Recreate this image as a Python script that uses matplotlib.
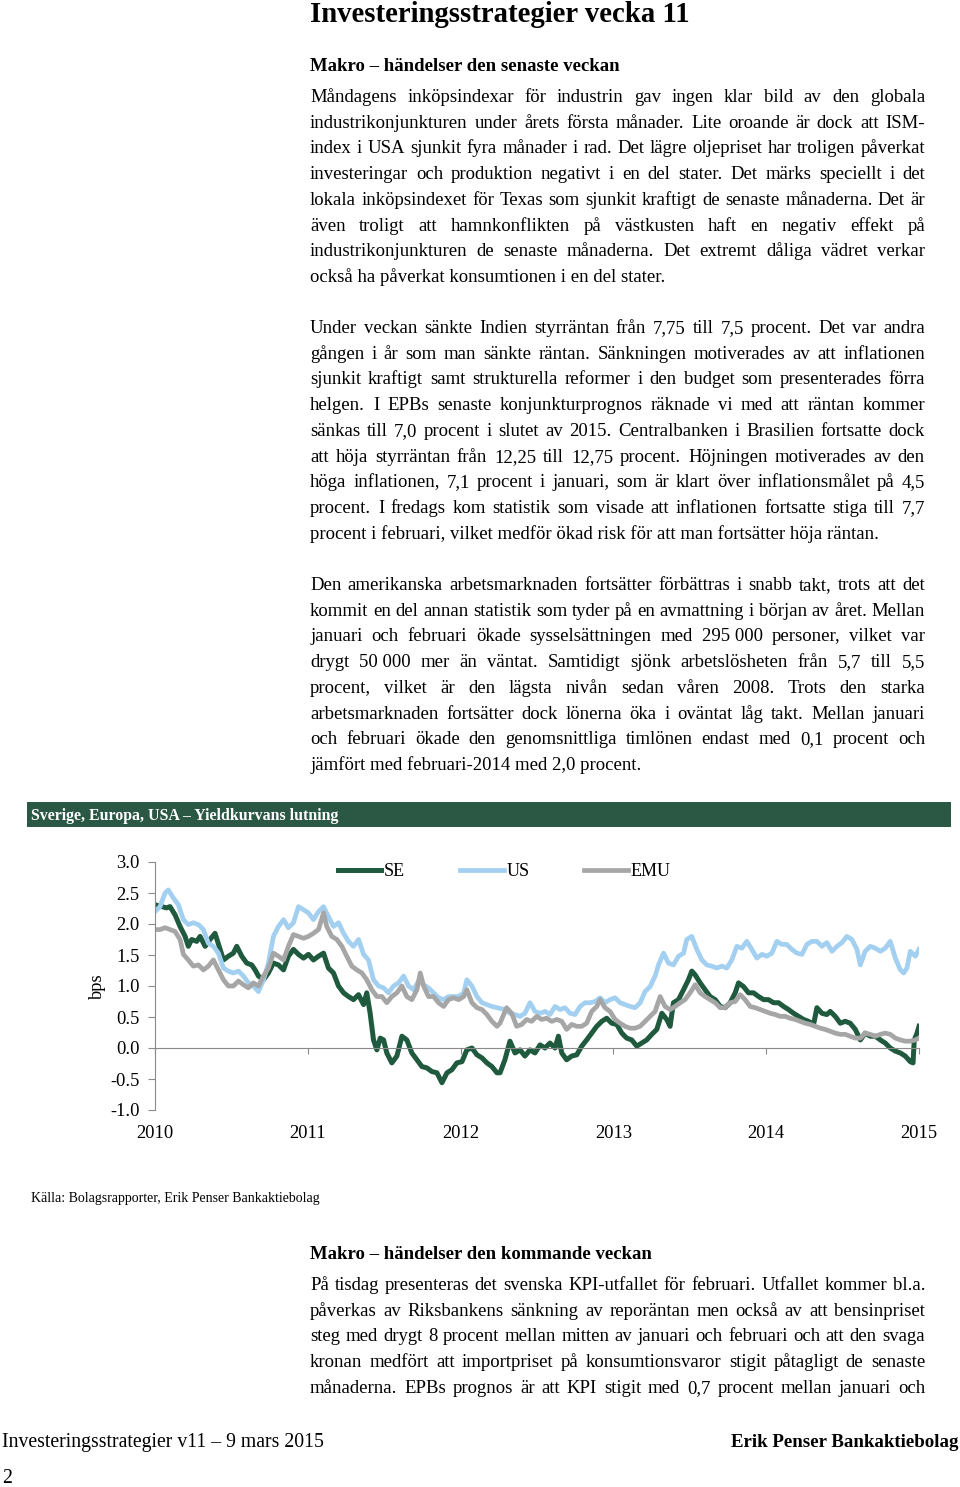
import matplotlib
matplotlib.use("Agg")
import matplotlib.pyplot as plt
from matplotlib.patches import Rectangle

plt.rcParams['font.family'] = ['Liberation Serif', 'DejaVu Serif']
plt.rcParams['axes.unicode_minus'] = False

# --- data (years as decimal, bps) ---
se_year = [2010.000, 2010.076, 2010.098, 2010.131, 2010.164, 2010.197, 2010.218, 2010.240, 2010.273, 2010.295,
           2010.328, 2010.360, 2010.393, 2010.426, 2010.448, 2010.480, 2010.513, 2010.535, 2010.568, 2010.600,
           2010.633, 2010.655, 2010.677, 2010.710, 2010.742, 2010.775, 2010.808, 2010.841, 2010.873, 2010.906,
           2010.939, 2010.972, 2011.004, 2011.037, 2011.070, 2011.103, 2011.135, 2011.168, 2011.201, 2011.234,
           2011.266, 2011.299, 2011.332, 2011.365, 2011.386, 2011.408, 2011.430, 2011.452, 2011.474, 2011.496,
           2011.517, 2011.550, 2011.583, 2011.616, 2011.648, 2011.681, 2011.714, 2011.747, 2011.779, 2011.812,
           2011.845, 2011.878, 2011.911, 2011.943, 2011.976, 2012.009, 2012.041, 2012.074, 2012.107, 2012.140,
           2012.172, 2012.205, 2012.238, 2012.258, 2012.290, 2012.323, 2012.356, 2012.389, 2012.421, 2012.454,
           2012.487, 2012.520, 2012.552, 2012.585, 2012.618, 2012.640, 2012.662, 2012.694, 2012.727, 2012.760,
           2012.793, 2012.825, 2012.858, 2012.891, 2012.924, 2012.956, 2012.989, 2013.022, 2013.055, 2013.087,
           2013.120, 2013.153, 2013.186, 2013.218, 2013.251, 2013.284, 2013.317, 2013.349, 2013.371, 2013.393,
           2013.426, 2013.459, 2013.491, 2013.513, 2013.535, 2013.568, 2013.600, 2013.633, 2013.666, 2013.699,
           2013.731, 2013.764, 2013.797, 2013.819, 2013.852, 2013.884, 2013.917, 2013.950, 2013.983, 2014.015,
           2014.048, 2014.081, 2014.114, 2014.146, 2014.179, 2014.212, 2014.245, 2014.277, 2014.310, 2014.332,
           2014.365, 2014.397, 2014.419, 2014.452, 2014.485, 2014.517, 2014.550, 2014.583, 2014.616, 2014.648,
           2014.681, 2014.714, 2014.747, 2014.779, 2014.812, 2014.845, 2014.878, 2014.910, 2014.943, 2014.961,
           2014.969, 2014.987, 2015.000]
se_val = [2.31, 2.26, 2.28, 2.15, 1.96, 1.80, 1.64, 1.75, 1.72, 1.80,
          1.64, 1.75, 1.85, 1.59, 1.42, 1.48, 1.53, 1.64, 1.48, 1.37,
          1.34, 1.26, 1.16, 1.10, 1.21, 1.37, 1.34, 1.26, 1.48, 1.59,
          1.51, 1.45, 1.51, 1.42, 1.48, 1.53, 1.29, 1.21, 1.00, 0.89,
          0.83, 0.78, 0.86, 0.70, 0.89, 0.56, 0.13, -0.03, 0.16, 0.13,
          -0.08, -0.24, -0.13, 0.19, 0.13, -0.08, -0.19, -0.30, -0.32, -0.38,
          -0.40, -0.56, -0.40, -0.35, -0.24, -0.22, -0.03, 0.00, -0.11, -0.16,
          -0.24, -0.30, -0.40, -0.40, -0.19, 0.11, -0.08, -0.03, -0.13, -0.03,
          -0.08, 0.05, 0.00, 0.08, 0.00, 0.19, -0.08, -0.19, -0.13, -0.11,
          0.03, 0.13, 0.24, 0.35, 0.43, 0.48, 0.40, 0.38, 0.24, 0.16,
          0.13, 0.03, 0.08, 0.13, 0.22, 0.30, 0.56, 0.46, 0.35, 0.73,
          0.78, 0.94, 1.10, 1.24, 1.18, 1.05, 0.94, 0.83, 0.78, 0.67,
          0.65, 0.73, 0.89, 1.05, 0.99, 0.89, 0.89, 0.83, 0.78, 0.78,
          0.73, 0.73, 0.67, 0.62, 0.56, 0.51, 0.46, 0.43, 0.38, 0.65,
          0.56, 0.54, 0.59, 0.51, 0.40, 0.43, 0.40, 0.30, 0.13, 0.24,
          0.19, 0.19, 0.13, 0.08, 0.00, -0.05, -0.08, -0.13, -0.22, -0.24,
          0.13, 0.24, 0.35]

us_year = [2010.000, 2010.033, 2010.066, 2010.087, 2010.120, 2010.153, 2010.186, 2010.218, 2010.251, 2010.284,
           2010.317, 2010.349, 2010.382, 2010.415, 2010.448, 2010.480, 2010.513, 2010.546, 2010.579, 2010.611,
           2010.644, 2010.677, 2010.710, 2010.742, 2010.775, 2010.808, 2010.841, 2010.873, 2010.906, 2010.939,
           2010.972, 2011.004, 2011.037, 2011.070, 2011.103, 2011.135, 2011.168, 2011.201, 2011.234, 2011.266,
           2011.299, 2011.332, 2011.365, 2011.397, 2011.430, 2011.463, 2011.496, 2011.528, 2011.561, 2011.594,
           2011.627, 2011.659, 2011.692, 2011.725, 2011.758, 2011.790, 2011.823, 2011.856, 2011.889, 2011.921,
           2011.954, 2011.987, 2012.020, 2012.041, 2012.074, 2012.107, 2012.140, 2012.172, 2012.205, 2012.238,
           2012.290, 2012.323, 2012.356, 2012.389, 2012.421, 2012.454, 2012.487, 2012.520, 2012.552, 2012.585,
           2012.618, 2012.651, 2012.683, 2012.716, 2012.749, 2012.782, 2012.814, 2012.847, 2012.880, 2012.913,
           2012.945, 2012.978, 2013.011, 2013.044, 2013.076, 2013.109, 2013.142, 2013.175, 2013.207, 2013.240,
           2013.273, 2013.295, 2013.328, 2013.360, 2013.393, 2013.426, 2013.459, 2013.480, 2013.513, 2013.546,
           2013.579, 2013.611, 2013.644, 2013.677, 2013.710, 2013.742, 2013.775, 2013.808, 2013.841, 2013.873,
           2013.906, 2013.939, 2013.972, 2014.004, 2014.037, 2014.070, 2014.103, 2014.135, 2014.168, 2014.201,
           2014.234, 2014.266, 2014.299, 2014.332, 2014.365, 2014.397, 2014.430, 2014.463, 2014.496, 2014.528,
           2014.561, 2014.594, 2014.616, 2014.648, 2014.681, 2014.714, 2014.747, 2014.779, 2014.812, 2014.845,
           2014.878, 2014.900, 2014.921, 2014.943, 2014.976, 2015.000]
us_val = [2.20, 2.28, 2.50, 2.55, 2.42, 2.31, 2.07, 1.99, 2.02, 1.99,
          1.91, 1.69, 1.64, 1.53, 1.29, 1.24, 1.21, 1.24, 1.16, 1.05,
          1.00, 0.91, 1.10, 1.37, 1.80, 1.96, 2.07, 1.94, 2.02, 2.28,
          2.23, 2.18, 2.07, 2.20, 2.28, 2.12, 1.96, 2.02, 1.85, 1.72,
          1.64, 1.75, 1.51, 1.42, 1.10, 1.00, 0.97, 0.89, 1.00, 1.05,
          1.16, 1.00, 0.94, 1.08, 1.02, 0.97, 0.89, 0.81, 0.78, 0.83,
          0.83, 0.83, 0.89, 1.10, 1.00, 0.83, 0.73, 0.70, 0.67, 0.65,
          0.62, 0.56, 0.54, 0.51, 0.56, 0.73, 0.59, 0.56, 0.59, 0.54,
          0.67, 0.62, 0.65, 0.56, 0.54, 0.67, 0.73, 0.73, 0.75, 0.81,
          0.73, 0.78, 0.81, 0.73, 0.70, 0.67, 0.65, 0.73, 0.91, 0.99,
          1.16, 1.34, 1.53, 1.37, 1.34, 1.48, 1.53, 1.75, 1.80, 1.59,
          1.42, 1.34, 1.32, 1.29, 1.32, 1.29, 1.42, 1.64, 1.61, 1.72,
          1.59, 1.45, 1.51, 1.48, 1.53, 1.72, 1.67, 1.67, 1.59, 1.53,
          1.51, 1.67, 1.72, 1.72, 1.64, 1.70, 1.56, 1.64, 1.70, 1.80,
          1.75, 1.59, 1.34, 1.56, 1.64, 1.61, 1.56, 1.61, 1.72, 1.45,
          1.26, 1.21, 1.29, 1.56, 1.48, 1.59]

emu_year = [2010.000, 2010.033, 2010.066, 2010.098, 2010.131, 2010.164, 2010.186, 2010.218, 2010.251, 2010.284,
            2010.317, 2010.349, 2010.382, 2010.415, 2010.448, 2010.480, 2010.513, 2010.546, 2010.579, 2010.611,
            2010.644, 2010.677, 2010.710, 2010.742, 2010.775, 2010.808, 2010.841, 2010.873, 2010.906, 2010.939,
            2010.972, 2011.004, 2011.037, 2011.070, 2011.103, 2011.124, 2011.157, 2011.190, 2011.223, 2011.255,
            2011.288, 2011.321, 2011.354, 2011.386, 2011.419, 2011.452, 2011.485, 2011.517, 2011.550, 2011.583,
            2011.616, 2011.648, 2011.681, 2011.714, 2011.736, 2011.758, 2011.790, 2011.823, 2011.856, 2011.889,
            2011.921, 2011.954, 2011.987, 2012.020, 2012.041, 2012.074, 2012.107, 2012.140, 2012.172, 2012.205,
            2012.238, 2012.258, 2012.301, 2012.334, 2012.367, 2012.400, 2012.432, 2012.465, 2012.498, 2012.531,
            2012.563, 2012.596, 2012.629, 2012.662, 2012.694, 2012.727, 2012.760, 2012.793, 2012.825, 2012.858,
            2012.891, 2012.913, 2012.945, 2012.978, 2013.011, 2013.044, 2013.076, 2013.109, 2013.142, 2013.175,
            2013.207, 2013.240, 2013.273, 2013.306, 2013.338, 2013.371, 2013.404, 2013.437, 2013.469, 2013.502,
            2013.535, 2013.568, 2013.600, 2013.633, 2013.666, 2013.699, 2013.731, 2013.764, 2013.797, 2013.830,
            2013.862, 2013.895, 2013.928, 2013.961, 2013.993, 2014.026, 2014.059, 2014.092, 2014.124, 2014.157,
            2014.190, 2014.223, 2014.255, 2014.288, 2014.321, 2014.354, 2014.386, 2014.419, 2014.452, 2014.485,
            2014.517, 2014.550, 2014.583, 2014.616, 2014.648, 2014.681, 2014.714, 2014.747, 2014.779, 2014.812,
            2014.845, 2014.878, 2014.910, 2014.943, 2014.976, 2015.000]
emu_val = [1.91, 1.91, 1.94, 1.91, 1.88, 1.75, 1.51, 1.42, 1.32, 1.34,
           1.26, 1.32, 1.42, 1.26, 1.10, 1.00, 1.00, 1.08, 1.02, 0.97,
           1.05, 1.00, 1.16, 1.29, 1.53, 1.48, 1.42, 1.64, 1.83, 1.80,
           1.77, 1.80, 1.85, 1.91, 2.18, 1.96, 1.80, 1.75, 1.64, 1.48,
           1.32, 1.26, 1.21, 1.10, 0.94, 0.83, 0.83, 0.73, 0.83, 0.89,
           1.00, 0.83, 0.78, 0.94, 1.21, 1.00, 0.83, 0.83, 0.73, 0.67,
           0.78, 0.81, 0.78, 0.83, 0.94, 0.73, 0.65, 0.62, 0.54, 0.43,
           0.35, 0.40, 0.65, 0.56, 0.35, 0.38, 0.46, 0.43, 0.51, 0.46,
           0.48, 0.43, 0.46, 0.43, 0.30, 0.38, 0.35, 0.35, 0.40, 0.59,
           0.67, 0.78, 0.65, 0.59, 0.46, 0.40, 0.35, 0.32, 0.32, 0.35,
           0.43, 0.51, 0.59, 0.83, 0.67, 0.62, 0.67, 0.73, 0.78, 0.89,
           1.02, 0.89, 0.83, 0.78, 0.73, 0.65, 0.65, 0.73, 0.75, 0.86,
           0.78, 0.67, 0.65, 0.62, 0.59, 0.56, 0.54, 0.51, 0.51, 0.48,
           0.46, 0.43, 0.40, 0.38, 0.35, 0.32, 0.30, 0.27, 0.24, 0.22,
           0.22, 0.19, 0.16, 0.16, 0.24, 0.22, 0.19, 0.22, 0.24, 0.22,
           0.16, 0.13, 0.11, 0.11, 0.13, 0.16]

years = [2010, 2011, 2012, 2013, 2014, 2015]
y_ticks = [3.0, 2.5, 2.0, 1.5, 1.0, 0.5, 0.0, -0.5, -1.0]

# --- page text ---
title = "Investeringsstrategier vecka 11"
head1 = "Makro – händelser den senaste veckan"
head2 = "Makro – händelser den kommande veckan"
para1 = ["Måndagens inköpsindexar för industrin gav ingen klar bild av den globala",
         "industrikonjunkturen under årets första månader. Lite oroande är dock att ISM-",
         "index i USA sjunkit fyra månader i rad. Det lägre oljepriset har troligen påverkat",
         "investeringar och produktion negativt i en del stater. Det märks speciellt i det",
         "lokala inköpsindexet för Texas som sjunkit kraftigt de senaste månaderna. Det är",
         "även troligt att hamnkonflikten på västkusten haft en negativ effekt på",
         "industrikonjunkturen de senaste månaderna. Det extremt dåliga vädret verkar",
         "också ha påverkat konsumtionen i en del stater."]
para2 = ["Under veckan sänkte Indien styrräntan från 7,75 till 7,5 procent. Det var andra",
         "gången i år som man sänkte räntan. Sänkningen motiverades av att inflationen",
         "sjunkit kraftigt samt strukturella reformer i den budget som presenterades förra",
         "helgen. I EPBs senaste konjunkturprognos räknade vi med att räntan kommer",
         "sänkas till 7,0 procent i slutet av 2015. Centralbanken i Brasilien fortsatte dock",
         "att höja styrräntan från 12,25 till 12,75 procent. Höjningen motiverades av den",
         "höga inflationen, 7,1 procent i januari, som är klart över inflationsmålet på 4,5",
         "procent. I fredags kom statistik som visade att inflationen fortsatte stiga till 7,7",
         "procent i februari, vilket medför ökad risk för att man fortsätter höja räntan."]
para3 = ["Den amerikanska arbetsmarknaden fortsätter förbättras i snabb takt, trots att det",
         "kommit en del annan statistik som tyder på en avmattning i början av året. Mellan",
         "januari och februari ökade sysselsättningen med 295\u00a0000 personer, vilket var",
         "drygt 50\u00a0000 mer än väntat. Samtidigt sjönk arbetslösheten från 5,7 till 5,5",
         "procent, vilket är den lägsta nivån sedan våren 2008. Trots den starka",
         "arbetsmarknaden fortsätter dock lönerna öka i oväntat låg takt. Mellan januari",
         "och februari ökade den genomsnittliga timlönen endast med 0,1 procent och",
         "jämfört med februari-2014 med 2,0 procent."]
para4 = ["På tisdag presenteras det svenska KPI-utfallet för februari. Utfallet kommer bl.a.",
         "påverkas av Riksbankens sänkning av reporäntan men också av att bensinpriset",
         "steg med drygt 8 procent mellan mitten av januari och februari och att den svaga",
         "kronan medfört att importpriset på konsumtionsvaror stigit påtagligt de senaste",
         "månaderna. EPBs prognos är att KPI stigit med 0,7 procent mellan januari och"]

W, H = 960, 1487
fig = plt.figure(figsize=(W / 100, H / 100), dpi=100)
renderer = fig.canvas.get_renderer()


def px(x, y):
    # pixel position (from top left) -> figure fraction
    return x / W, 1 - y / H


def put_line(txt, x0, y, x1=None, **kw):
    if x1 is None:
        fig.text(*px(x0, y), txt, va='baseline', **kw)
        return
    # justified line: spread the words between x0 and x1
    words = txt.split(' ')
    objs = [fig.text(0, 0, w, va='baseline', **kw) for w in words]
    widths = [o.get_window_extent(renderer).width for o in objs]
    gap = (x1 - x0 - sum(widths)) / (len(words) - 1)
    x = x0
    for o, w in zip(objs, widths):
        o.set_position(px(x, y))
        x += w + gap


def put_para(lines, y0, last_justified=False):
    for i, ln in enumerate(lines):
        last = i == len(lines) - 1
        x1 = None if (last and not last_justified) else 925
        put_line(ln, 310, y0 + i * 25.72, x1, fontsize=13.5, color='black')


put_line(title, 310, 22, fontsize=20.7, fontweight='bold')
put_line(head1, 310, 71, fontsize=13.5, fontweight='bold')
put_para(para1, 102)
put_para(para2, 333)
put_para(para3, 590)
put_line(head2, 310, 1259, fontsize=13.5, fontweight='bold')
put_para(para4, 1290, last_justified=True)

# chart header bar
fig.patches.append(Rectangle(px(27, 827), 924 / W, 25 / H, transform=fig.transFigure,
                             facecolor='#2b5745', edgecolor='none'))
put_line("Sverige, Europa, USA – Yieldkurvans lutning", 31, 820, fontsize=11.4,
         fontweight='bold', color='white')
put_line("Källa: Bolagsrapporter, Erik Penser Bankaktiebolag", 31, 1202, fontsize=10)

# footer
put_line("Investeringsstrategier v11 – 9 mars 2015", 2, 1447, fontsize=14.2)
fig.text(*px(958, 1447), "Erik Penser Bankaktiebolag", fontsize=13.6, fontweight='bold',
         ha='right', va='baseline')
put_line("2", 2, 1483, fontsize=14.2)

# --- chart ---
ax = fig.add_axes([155 / W, 1 - 1110 / H, 764 / W, 248 / H])
ax.plot(se_year, se_val, color='#1f5a3e', lw=3.6, label='SE')
ax.plot(us_year, us_val, color='#a3d0f0', lw=3.4, label='US')
ax.plot(emu_year, emu_val, color='#a6a6a6', lw=3.4, label='EMU')
ax.set_xlim(2010, 2015)
ax.set_ylim(-1, 3)

axis_col = '#8a8a8a'
for s in ['top', 'right']:
    ax.spines[s].set_visible(False)
ax.spines['left'].set_color(axis_col)
ax.spines['bottom'].set_color(axis_col)
ax.spines['bottom'].set_position(('data', 0))

ax.set_yticks(y_ticks)
ax.set_yticklabels([f"{v:.1f}" for v in y_ticks])
ax.tick_params(axis='y', direction='out', length=5, color=axis_col, labelsize=13.3, pad=6)
ax.set_xticks(years)
ax.tick_params(axis='x', direction='out', length=4, color=axis_col, labelbottom=False)

sec = ax.secondary_xaxis('bottom')
sec.set_xticks(years)
sec.set_xticklabels([str(y) for y in years])
sec.tick_params(length=0, labelsize=13.3, pad=11)
sec.spines['bottom'].set_visible(False)

ax.set_ylabel('bps', fontsize=13.3)
ax.yaxis.set_label_coords(-0.064, 0.5)

ax.legend(loc='center left', bbox_to_anchor=px(338, 872), bbox_transform=fig.transFigure,
          ncol=3, frameon=False, fontsize=13, handlelength=2.4, handletextpad=0.15,
          columnspacing=3.05, borderpad=0, borderaxespad=0)

fig.savefig('out.png', dpi=100)
